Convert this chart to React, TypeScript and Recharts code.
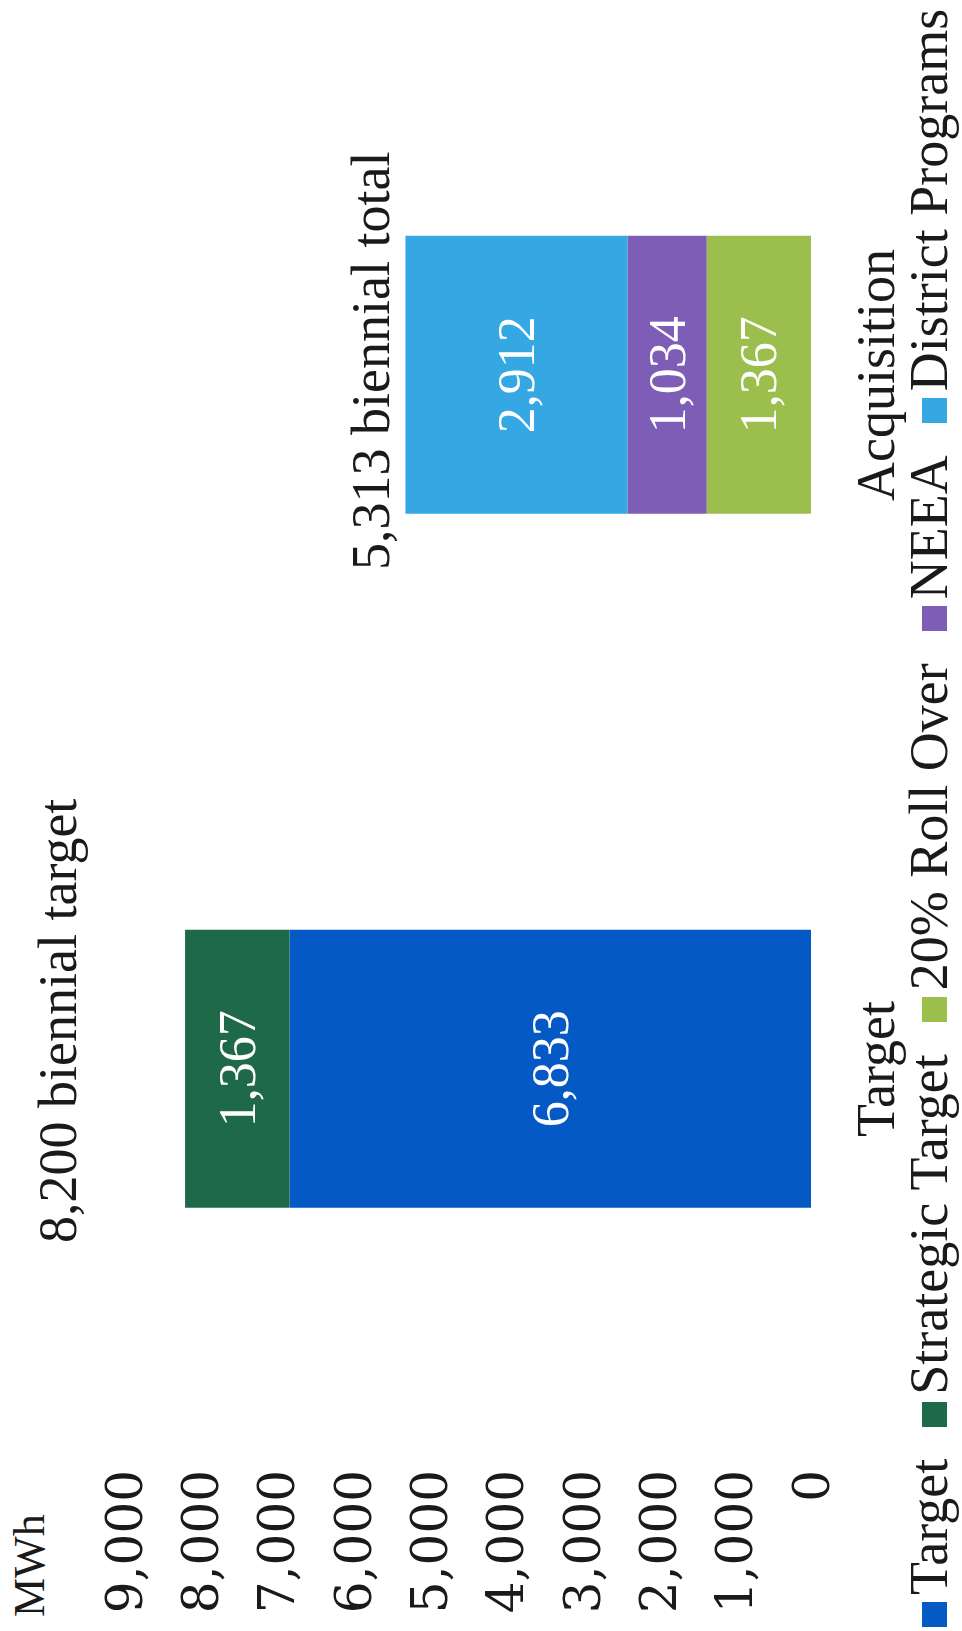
import React from "react";
import { BarChart, Bar, XAxis, YAxis, LabelList } from "recharts";

const categories = ["Target", "Acquisition"];
const targetValues = [6833, null];
const strategicValues = [1367, null];
const rollOverValues = [null, 1367];
const neeaValues = [null, 1034];
const districtValues = [null, 2912];
const totalSuffix = ["biennial target", "biennial total"];
const yTicks = [0, 1000, 2000, 3000, 4000, 5000, 6000, 7000, 8000, 9000];

const series = [
  { key: "Target", values: targetValues, color: "#0459C4" },
  { key: "Strategic Target", values: strategicValues, color: "#1E6A48" },
  { key: "20% Roll Over", values: rollOverValues, color: "#9BBE4C" },
  { key: "NEEA", values: neeaValues, color: "#7E5DB6" },
  { key: "District Programs", values: districtValues, color: "#35A7E2" },
];

const data = categories.map((category, i) => {
  const row: Record<string, any> = { category };
  let total = 0;
  series.forEach((s) => {
    row[s.key] = s.values[i];
    total += s.values[i] ?? 0;
  });
  row.total = total;
  return row;
});

const FONT = "'Liberation Serif', 'Times New Roman', serif";
const TICK_FONT = "'DejaVu Serif', serif";
const fmt = (v: number) => v.toLocaleString("en-US");

// where the total text sits relative to the top of each stack
const totalOffsets = [
  { dx: 48, dy: -109 },
  { dx: 14, dy: -16 },
];

const segmentLabel = (props: any) => {
  const { x, y, width, height, value } = props;
  if (value == null || value === 0) return null;
  return (
    <text
      x={x + width / 2}
      y={y + height / 2}
      textAnchor="middle"
      dominantBaseline="central"
      fill="#fff"
      fontSize={52}
      fontFamily={FONT}
    >
      {fmt(value)}
    </text>
  );
};

// catIdx: which category the top-of-stack series belongs to
const totalLabel = (catIdx: number) => (props: any) => {
  const { x, y, width, value } = props;
  if (value == null || value === 0) return null;
  const off = totalOffsets[catIdx];
  return (
    <text
      x={x + width / 2 + off.dx}
      y={y + off.dy}
      textAnchor="middle"
      fill="#1a1a1a"
      fontSize={54}
      fontFamily={FONT}
    >
      {`${fmt(data[catIdx].total)} ${totalSuffix[catIdx]}`}
    </text>
  );
};

export default function App() {
  return (
    <div style={{ position: "fixed", left: 0, top: 0, width: 962, height: 1631, overflow: "hidden", background: "#fff" }}>
      <div
        style={{
          position: "absolute", left: 0, top: 0, width: 1631, height: 962,
          transform: "translate(0px, 1631px) rotate(-90deg)", transformOrigin: "0 0",
          fontFamily: FONT,
        }}
      >
        <BarChart width={1631} height={962} data={data} barCategoryGap="30%" margin={{ top: 124, right: 28, bottom: 0, left: 0 }}>
          <XAxis
            dataKey="category" axisLine={false} tickLine={false} tickSize={0} tickMargin={45} height={151}
            tick={{ fill: "#1a1a1a", fontSize: 54, fontFamily: FONT }}
          />
          <YAxis
            domain={[0, 9000]} ticks={yTicks} interval={0} width={215}
            axisLine={false} tickLine={false} tickSize={0} tickMargin={54}
            tickFormatter={fmt}
            tick={{ fill: "#1a1a1a", fontSize: 50, fontFamily: TICK_FONT }}
            label={{
              content: (p: any) => (
                <text x={p.viewBox.x + 14} y={p.viewBox.y - 80} fill="#1a1a1a" fontSize={44} fontFamily={FONT}>MWh</text>
              ),
            }}
          />
          {series.map((s) => (
            <Bar key={s.key} dataKey={s.key} stackId="a" fill={s.color} isAnimationActive={false}>
              <LabelList dataKey={s.key} content={segmentLabel} />
              {s.key === "Strategic Target" && <LabelList dataKey={s.key} content={totalLabel(0)} />}
              {s.key === "District Programs" && <LabelList dataKey={s.key} content={totalLabel(1)} />}
            </Bar>
          ))}
        </BarChart>
        <div style={{ position: "absolute", left: 4, top: 902, whiteSpace: "nowrap", fontSize: 54, lineHeight: 1, color: "#1a1a1a" }}>
          {series.map((s) => (
            <span key={s.key} style={{ marginRight: 32 }}>
              <span style={{ display: "inline-block", width: 25, height: 25, background: s.color, marginRight: 7 }} />
              {s.key}
            </span>
          ))}
        </div>
      </div>
    </div>
  );
}
